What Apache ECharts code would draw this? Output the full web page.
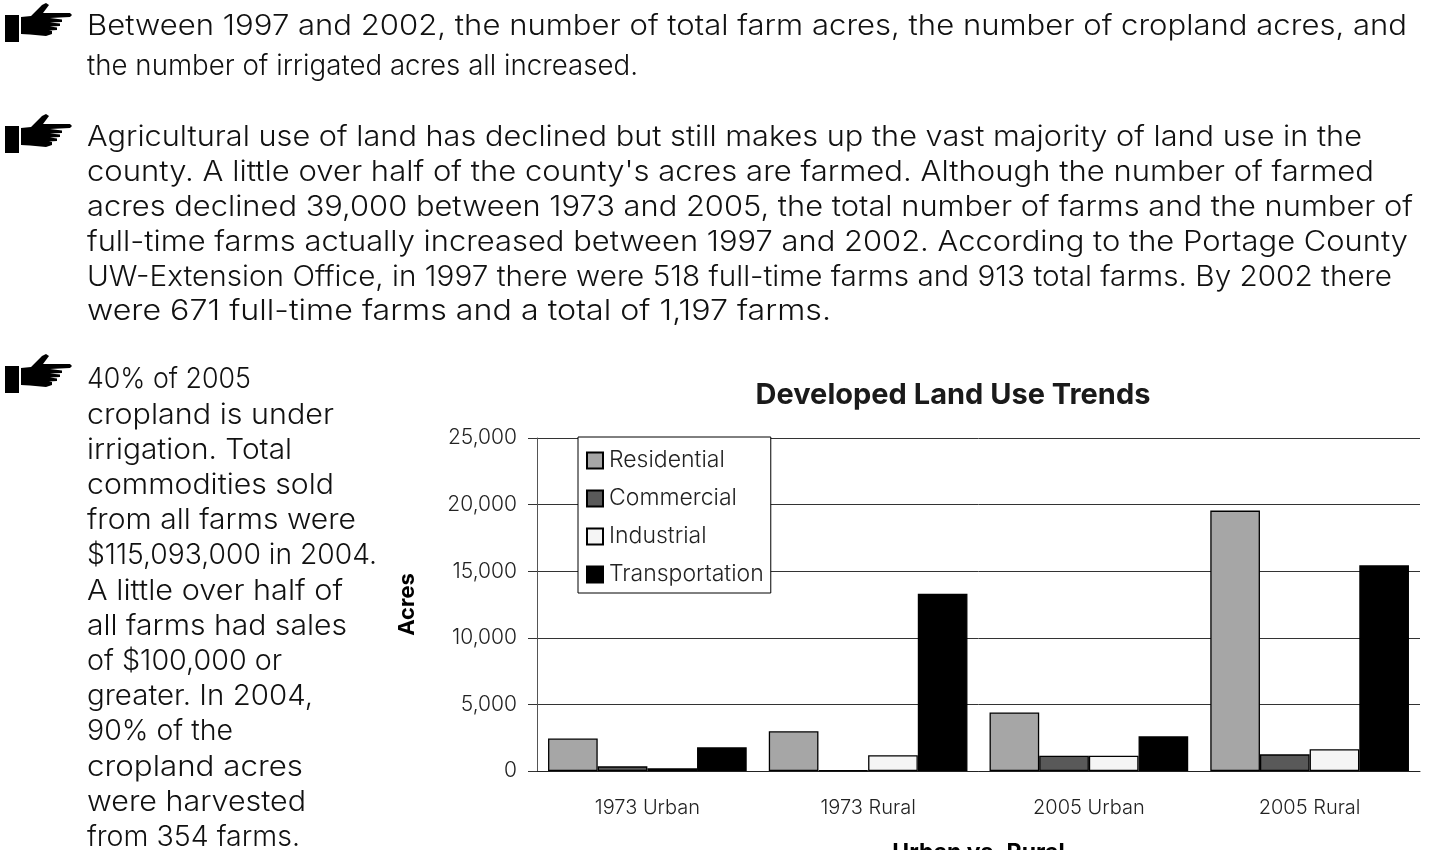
<!DOCTYPE html>
<html><head><meta charset="utf-8"><style>html,body{margin:0;background:#fff;overflow:hidden}#c{width:1430px;height:850px}</style>
<script src="https://cdn.jsdelivr.net/npm/echarts@6/dist/echarts.min.js"></script></head><body><div id="c"></div>
<script>
const categories=['1973 Urban','1973 Rural','2005 Urban','2005 Rural'];
const residential=[2440,2980,4400,19550];
const commercial=[350,50,1150,1250];
const industrial=[200,1180,1150,1630];
const transportation=[1780,13300,2600,15440];
const para1=['Between 1997 and 2002, the number of total farm acres, the number of cropland acres, and','the number of irrigated acres all increased.'];
const para2=['Agricultural use of land has declined but still makes up the vast majority of land use in the',"county. A little over half of the county's acres are farmed. Although the number of farmed",'acres declined 39,000 between 1973 and 2005, the total number of farms and the number of','full-time farms actually increased between 1997 and 2002. According to the Portage County','UW-Extension Office, in 1997 there were 518 full-time farms and 913 total farms. By 2002 there','were 671 full-time farms and a total of 1,197 farms.'];
const para3=['40% of 2005','cropland is under','irrigation. Total','commodities sold','from all farms were','$115,093,000 in 2004.','A little over half of','all farms had sales','of $100,000 or','greater. In 2004,','90% of the','cropland acres','were harvested','from 354 farms.'];
const ends1=[1407,638];
const ends2=[1362,1374,1413,1408,1392,831];
const ends3=[251,334,292,334,356,377,343,347,282,313,233,303,306,300];
const FONT='Inter';
const handBody=[[21,17],[31,16],[42,5],[46,3],[49,5],[43,13],[70,13],[72,15],[70,17],[50,18],[62,19.5],[62,22],[50,22.5],[60,23.5],[60,26],[50,26.5],[57,27.5],[57,30],[49,30.5],[52,31],[52,34],[46,36],[30,34.5],[21,34]];
const graphics=[];
function addHand(dy){
  graphics.push({type:'rect',shape:{x:5,y:15+dy,width:14,height:27},style:{fill:'#000'}});
  graphics.push({type:'polygon',shape:{points:handBody.map(p=>[p[0],p[1]+dy])},style:{fill:'#000'}});
}
const mctx=document.createElement('canvas').getContext('2d');
function addPara(lines,ends,x,base,step,size){
  const font='300 '+size+'px '+FONT;
  mctx.font=font;
  lines.forEach((t,i)=>graphics.push({type:'text',x:x,y:base+i*step,scaleX:(ends[i]-x)/mctx.measureText(t).width,style:{text:t,font:font,fill:'#111',verticalAlign:'bottom'}}));
}
addHand(0);addHand(111);addHand(351);
addPara(para1,ends1,87,41,40,28);
addPara(para2,ends2,87,152,34.8,28);
addPara(para3,ends3,87,394,35.2,28);
const chart=echarts.init(document.getElementById('c'));
const colors=['#a6a6a6','#595959','#f5f5f5','#000000'];
const names=['Residential','Commercial','Industrial','Transportation'];
const vals=[residential,commercial,industrial,transportation];
chart.setOption({animation:false,backgroundColor:'#fff',
title:{text:'Developed Land Use Trends',left:948,top:376,textAlign:'center',textStyle:{fontFamily:FONT,fontSize:29,fontWeight:'bold',color:'#1a1a1a'}},
legend:{orient:'vertical',icon:'rect',left:578,top:437,padding:[12,7,7,8],itemWidth:16,itemHeight:16,itemGap:15,backgroundColor:'#fff',borderColor:'#000',borderWidth:1,textStyle:{fontFamily:FONT,fontSize:23,fontWeight:300,color:'#222',padding:[0,0,0,1]},data:names,z:10},
grid:{left:537,right:10,top:438,bottom:79,outerBoundsMode:'none'},
xAxis:{type:'category',data:categories,name:'Urban vs. Rural',nameLocation:'middle',nameGap:71,nameTextStyle:{fontFamily:FONT,fontSize:23,fontWeight:'bold',color:'#000'},axisLine:{lineStyle:{color:'#222'}},axisTick:{length:7,lineStyle:{color:'#333'}},axisLabel:{margin:27,fontFamily:FONT,fontSize:20,fontWeight:300,color:'#222'}},
yAxis:{type:'value',min:0,max:25000,interval:5000,name:'Acres',nameLocation:'middle',nameGap:119,nameTextStyle:{fontFamily:FONT,fontSize:22,fontWeight:'bold',color:'#000'},axisLine:{show:true,lineStyle:{color:'#555'}},axisTick:{show:true,length:9,lineStyle:{color:'#333'}},splitLine:{lineStyle:{color:'#333'}},axisLabel:{margin:20,padding:[5,0,0,0],fontFamily:FONT,fontSize:21,fontWeight:300,color:'#222',formatter:v=>v.toLocaleString('en-US')}},
series:names.map((n,i)=>({type:'bar',name:n,data:vals[i],barGap:0,barCategoryGap:'10%',itemStyle:{color:colors[i],borderColor:'#000',borderWidth:1.3}})),
graphic:{elements:graphics}});
</script></body></html>
